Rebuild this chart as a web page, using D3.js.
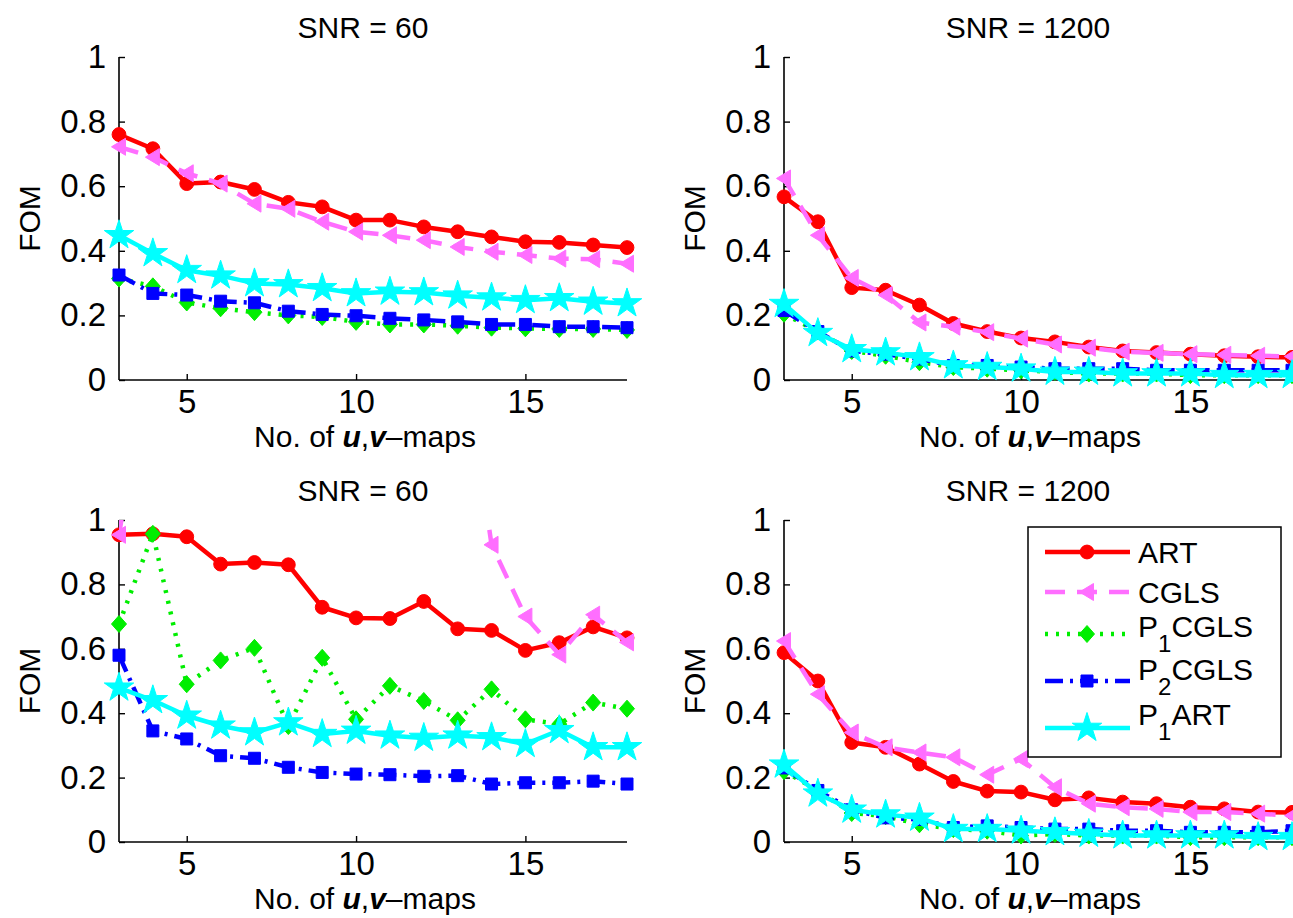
<!DOCTYPE html>
<html><head><meta charset="utf-8">
<script src="https://cdn.jsdelivr.net/npm/d3@7"></script>
<style>
body{margin:0;background:#fff}
svg text{font-family:"Liberation Sans",Arial,Helvetica,sans-serif;fill:#000}
</style>
</head><body>
<svg id="chart" width="1293" height="918"></svg>
<script>
// ---------- data ----------
const maps = [3,4,5,6,7,8,9,10,11,12,13,14,15,16,17,18];
const xTicks = [5,10,15];
const yTicks = [0,0.2,0.4,0.6,0.8,1];
const yTickLabels = ["0","0.2","0.4","0.6","0.8","1"];
const panelTitles = ["SNR = 60","SNR = 1200","SNR = 60","SNR = 1200"];
const seriesNames = ["ART","CGLS","P1CGLS","P2CGLS","P1ART"];

// top-left (SNR = 60)
const tlART    = [0.760,0.716,0.608,0.613,0.590,0.550,0.536,0.495,0.495,0.474,0.459,0.443,0.428,0.426,0.418,0.410];
const tlCGLS   = [0.722,0.690,0.640,0.608,0.546,0.530,0.490,0.459,0.448,0.433,0.412,0.397,0.387,0.376,0.374,0.360];
const tlP1CGLS = [0.314,0.290,0.240,0.222,0.210,0.200,0.195,0.180,0.172,0.172,0.168,0.162,0.160,0.158,0.158,0.155];
const tlP2CGLS = [0.325,0.268,0.263,0.244,0.239,0.213,0.203,0.199,0.191,0.186,0.180,0.172,0.172,0.165,0.165,0.162];
const tlP1ART  = [0.448,0.392,0.340,0.323,0.299,0.296,0.284,0.268,0.273,0.271,0.261,0.255,0.247,0.253,0.242,0.237];

// top-right (SNR = 1200)
const trART    = [0.567,0.490,0.286,0.278,0.232,0.175,0.150,0.130,0.118,0.102,0.090,0.085,0.080,0.075,0.072,0.070];
const trCGLS   = [0.624,0.448,0.316,0.263,0.178,0.165,0.148,0.128,0.110,0.100,0.088,0.084,0.080,0.078,0.075,0.073];
const trP1CGLS = [0.205,0.150,0.090,0.075,0.055,0.040,0.035,0.030,0.025,0.020,0.020,0.020,0.015,0.015,0.015,0.015];
const trP2CGLS = [0.215,0.150,0.090,0.080,0.065,0.045,0.045,0.040,0.035,0.035,0.035,0.030,0.030,0.030,0.030,0.030];
const trP1ART  = [0.235,0.145,0.095,0.085,0.070,0.045,0.040,0.035,0.025,0.025,0.020,0.020,0.020,0.015,0.015,0.015];

// bottom-left (SNR = 60)
const blART    = [0.954,0.957,0.948,0.863,0.868,0.861,0.729,0.696,0.694,0.747,0.662,0.657,0.595,0.619,0.668,0.634];
const blCGLS   = [0.954,1.600,1.700,1.750,1.800,1.800,1.750,1.750,1.700,1.700,1.650,0.923,0.700,0.582,0.706,0.620];
const blP1CGLS = [0.677,0.957,0.490,0.564,0.603,0.360,0.572,0.381,0.485,0.438,0.378,0.474,0.381,0.366,0.433,0.414];
const blP2CGLS = [0.580,0.345,0.320,0.268,0.260,0.232,0.216,0.211,0.209,0.204,0.206,0.180,0.184,0.184,0.189,0.180];
const blP1ART  = [0.479,0.440,0.392,0.361,0.340,0.371,0.335,0.345,0.330,0.323,0.330,0.325,0.304,0.347,0.294,0.294];

// bottom-right (SNR = 1200)
const brART    = [0.588,0.500,0.309,0.294,0.242,0.188,0.158,0.155,0.131,0.137,0.124,0.119,0.108,0.103,0.093,0.092];
const brCGLS   = [0.624,0.459,0.340,0.294,0.278,0.263,0.209,0.258,0.170,0.119,0.108,0.103,0.093,0.093,0.088,0.082];
const brP1CGLS = [0.220,0.160,0.090,0.080,0.055,0.040,0.035,0.020,0.025,0.020,0.020,0.020,0.015,0.015,0.015,0.015];
const brP2CGLS = [0.230,0.160,0.100,0.075,0.070,0.045,0.050,0.045,0.040,0.040,0.035,0.035,0.030,0.030,0.030,0.035];
const brP1ART  = [0.240,0.150,0.100,0.085,0.075,0.040,0.040,0.035,0.030,0.025,0.020,0.020,0.020,0.020,0.015,0.015];

// ---------- styles ----------
const styles = {
  ART:    {color:"#ff0000", dash:null,          marker:"circle"},
  CGLS:   {color:"#ff6eff", dash:"20,12",       marker:"triLeft"},
  P1CGLS: {color:"#00ee00", dash:"3,8",         marker:"diamond"},
  P2CGLS: {color:"#0000ff", dash:"18,7,3,7",    marker:"square"},
  P1ART:  {color:"#00ffff", dash:null,          marker:"star"}
};
const panelData = [
  [tlART,tlCGLS,tlP1CGLS,tlP2CGLS,tlP1ART],
  [trART,trCGLS,trP1CGLS,trP2CGLS,trP1ART],
  [blART,blCGLS,blP1CGLS,blP2CGLS,blP1ART],
  [brART,brCGLS,brP1CGLS,brP2CGLS,brP1ART]
];
const panelBoxes = [
  {x0:119,x1:627,y0:57,y1:380},
  {x0:784,x1:1292,y0:57,y1:380},
  {x0:119,x1:627,y0:520,y1:842},
  {x0:784,x1:1292,y0:520,y1:842}
];

const svg = d3.select("#chart");
const FS = 30, TFS = 33;

function markerPath(type){
  switch(type){
    case "circle": return d3.symbol(d3.symbolCircle, 150)();
    case "square": return "M-6,-6L6,-6L6,6L-6,6Z";
    case "diamond": return "M0,-8.5L7.5,0L0,8.5L-7.5,0Z";
    case "triLeft": return "M-7.5,0L6.5,-8.5L6.5,8.5Z";
    case "star": return d3.symbol(d3.symbolStar, 270)();
  }
}

const defs = svg.append("defs");

panelBoxes.forEach((b,pi)=>{
  const x = d3.scaleLinear().domain([3,18]).range([b.x0,b.x1]);
  const y = d3.scaleLinear().domain([0,1]).range([b.y1,b.y0]);
  const g = svg.append("g");
  const cid = "clip"+pi;
  defs.append("clipPath").attr("id",cid).append("rect")
    .attr("x",b.x0).attr("y",b.y0).attr("width",b.x1-b.x0).attr("height",b.y1-b.y0);

  // axes
  const yAxis = d3.axisLeft(y).tickValues(yTicks).tickSize(-6).tickPadding(13)
      .tickFormat((d,i)=>yTickLabels[i]);
  const xAxis = d3.axisBottom(x).tickValues(xTicks).tickSize(-6).tickPadding(9)
      .tickFormat(d3.format("d"));
  const ga = g.append("g").attr("transform",`translate(${b.x0},0)`).call(yAxis);
  const gx = g.append("g").attr("transform",`translate(0,${b.y1})`).call(xAxis);
  [ga,gx].forEach(a=>{
    a.select(".domain").attr("stroke","#000").attr("stroke-width",1.6);
    a.selectAll(".tick line").attr("stroke","#000").attr("stroke-width",1.4);
    a.selectAll(".tick text").attr("font-size",TFS).attr("fill","#000")
      .style("font-family",'"Liberation Sans",Arial,sans-serif');
  });
  ga.select(".domain").attr("d",`M0,${b.y1}V${b.y0}`);
  gx.select(".domain").attr("d",`M${b.x0},0H${b.x1}`);
  gx.selectAll(".tick text").attr("dy","0.72em");

  // title
  g.append("text").attr("x",(b.x0+b.x1)/2-10).attr("y",b.y0-30)
    .attr("dy","0.36em")
    .attr("text-anchor","middle").attr("font-size",FS).text(panelTitles[pi]);
  // y label
  g.append("text").attr("transform",`translate(${b.x0-90},${(b.y0+b.y1)/2}) rotate(-90)`)
    .attr("dy","0.36em")
    .attr("text-anchor","middle").attr("font-size",FS).text("FOM");
  // x label
  const xl = g.append("text").attr("x",(b.x0+b.x1)/2-8).attr("y",b.y1+56)
    .attr("dy","0.36em")
    .attr("text-anchor","middle").attr("font-size",FS);
  xl.append("tspan").text("No. of ");
  xl.append("tspan").attr("font-weight","bold").attr("font-style","italic").text("u");
  xl.append("tspan").text(",");
  xl.append("tspan").attr("font-weight","bold").attr("font-style","italic").text("v");
  xl.append("tspan").text("\u2013maps");

  // series
  const line = d3.line().x((d,i)=>x(maps[i])).y(d=>y(d));
  panelData[pi].forEach((vals,si)=>{
    const st = styles[seriesNames[si]];
    g.append("path").attr("d",line(vals)).attr("fill","none")
      .attr("stroke",st.color).attr("stroke-width",4.5)
      .attr("stroke-linejoin","round")
      .attr("stroke-dasharray",st.dash)
      .attr("clip-path",`url(#${cid})`);
    g.selectAll(null).data(vals.map((v,i)=>({v,m:maps[i]})).filter(d=>d.v<=1 && d.v>=0))
      .enter().append("path")
      .attr("d",markerPath(st.marker))
      .attr("transform",d=>`translate(${x(d.m)},${y(d.v)})`)
      .attr("fill",st.color).attr("stroke",st.color).attr("stroke-width",1);
  });
});

// legend (bottom-right panel)
const legendRows = [
  {name:"ART", main:"ART", sub:null, ly:552, ty:552},
  {name:"CGLS", main:"CGLS", sub:null, ly:592, ty:592},
  {name:"P1CGLS", main:"P", sub:"1", rest:"CGLS", ly:634, ty:626},
  {name:"P2CGLS", main:"P", sub:"2", rest:"CGLS", ly:681, ty:669},
  {name:"P1ART", main:"P", sub:"1", rest:"ART", ly:728, ty:714}
];
const lg = svg.append("g");
lg.append("rect").attr("x",1028).attr("y",527).attr("width",253).attr("height",230)
  .attr("fill","#fff").attr("stroke","#000").attr("stroke-width",1.5);
legendRows.forEach(r=>{
  const st = styles[r.name];
  lg.append("line").attr("x1",1045).attr("x2",1130).attr("y1",r.ly).attr("y2",r.ly)
    .attr("stroke",st.color).attr("stroke-width",4.5).attr("stroke-dasharray",st.dash);
  lg.append("path").attr("d",markerPath(st.marker)).attr("transform",`translate(1087,${r.ly})`)
    .attr("fill",st.color).attr("stroke",st.color);
  const t = lg.append("text").attr("x",1138).attr("y",r.ty).attr("dy","0.36em").attr("font-size",FS);
  t.append("tspan").text(r.main);
  if(r.sub){
    t.append("tspan").attr("dy",15).attr("font-size",FS-6).text(r.sub);
    t.append("tspan").attr("dy",-15).text(r.rest);
  }
});
</script>
</body></html>
